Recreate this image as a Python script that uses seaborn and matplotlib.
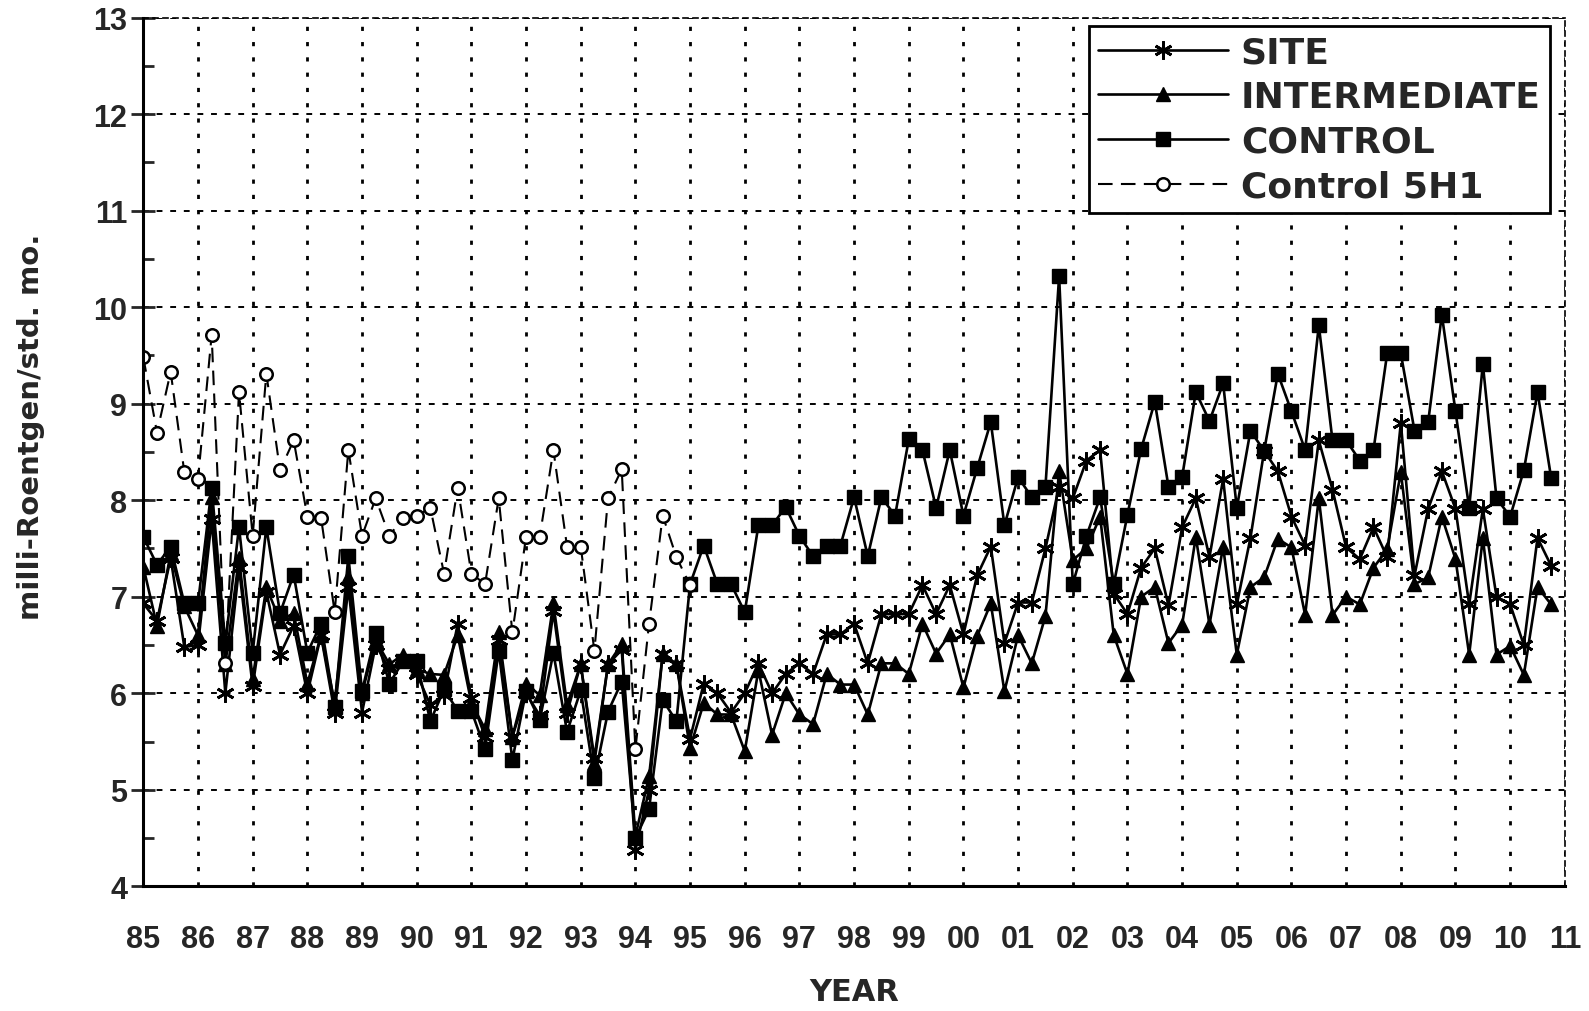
import matplotlib
matplotlib.use('Agg')
import matplotlib.pyplot as plt
from matplotlib.ticker import MultipleLocator
import seaborn as sns
import numpy as np
import pandas as pd

# quarterly readings, 1985 Q1 .. 2010 Q4
site = [6.93, 6.75, 7.4, 6.48, 6.5, 7.8, 6.0, 7.3, 6.07, 7.05, 6.4, 6.7,
        6.0, 6.6, 5.8, 7.1, 5.8, 6.5, 6.25, 6.35, 6.2, 5.88, 5.98, 6.72,
        5.95, 5.55, 6.55, 5.55, 6.0, 5.77, 6.85, 5.8, 6.3, 5.33, 6.3, 6.45,
        4.38, 5.0, 6.41, 6.3, 5.53, 6.1, 6.0, 5.8, 6.0, 6.31, 6.0, 6.2,
        6.31, 6.2, 6.61, 6.61, 6.72, 6.31, 6.82, 6.82, 6.82, 7.12, 6.82, 7.12,
        6.61, 7.22, 7.52, 6.52, 6.94, 6.94, 7.5, 8.14, 8.02, 8.41, 8.52, 7.03,
        6.82, 7.3, 7.5, 6.91, 7.72, 8.02, 7.41, 8.22, 6.92, 7.61, 8.51, 8.3,
        7.83, 7.53, 8.62, 8.11, 7.51, 7.39, 7.72, 7.41, 8.8, 7.22, 7.91, 8.3,
        7.91, 6.92, 7.91, 7.0, 6.92, 6.5, 7.61, 7.32]
intermediate = [7.31, 6.7, 7.45, 6.9, 6.6, 8.03, 6.3, 7.4, 6.15, 7.1, 6.75, 6.83,
                6.1, 6.6, 5.9, 7.2, 6.0, 6.55, 6.3, 6.4, 6.25, 6.2, 6.19, 6.6,
                5.9, 5.63, 6.63, 5.55, 6.1, 5.98, 6.93, 5.88, 6.3, 5.28, 6.3, 6.51,
                4.52, 5.14, 6.41, 6.3, 5.43, 5.9, 5.78, 5.78, 5.4, 6.24, 5.57, 6.0,
                5.78, 5.68, 6.2, 6.09, 6.09, 5.78, 6.31, 6.31, 6.2, 6.72, 6.41, 6.61,
                6.06, 6.59, 6.93, 6.02, 6.6, 6.31, 6.8, 8.3, 7.38, 7.5, 7.83, 6.6,
                6.2, 7.0, 7.1, 6.52, 6.71, 7.62, 6.71, 7.52, 6.4, 7.1, 7.2, 7.6,
                7.51, 6.81, 8.02, 6.81, 7.0, 6.92, 7.3, 7.49, 8.29, 7.13, 7.2, 7.83,
                7.39, 6.4, 7.61, 6.4, 6.49, 6.19, 7.1, 6.92]
control = [7.62, 7.33, 7.52, 6.93, 6.93, 8.13, 6.52, 7.72, 6.42, 7.72, 6.83, 7.23,
           6.42, 6.72, 5.86, 7.42, 6.02, 6.62, 6.1, 6.33, 6.33, 5.71, 6.04, 5.82,
           5.82, 5.42, 6.44, 5.31, 6.02, 5.72, 6.42, 5.6, 6.03, 5.12, 5.81, 6.12,
           4.5, 4.8, 5.93, 5.71, 7.13, 7.53, 7.13, 7.13, 6.84, 7.74, 7.74, 7.93,
           7.63, 7.42, 7.53, 7.53, 8.03, 7.42, 8.03, 7.84, 8.63, 8.52, 7.92, 8.52,
           7.84, 8.33, 8.81, 7.74, 8.24, 8.03, 8.14, 10.32, 7.13, 7.63, 8.03, 7.13,
           7.85, 8.53, 9.02, 8.14, 8.24, 9.12, 8.82, 9.21, 7.92, 8.72, 8.51, 9.31,
           8.92, 8.52, 9.81, 8.62, 8.62, 8.41, 8.52, 9.52, 9.52, 8.72, 8.81, 9.92,
           8.92, 7.92, 9.41, 8.02, 7.83, 8.31, 9.12, 8.23]
# Control 5H1, 1985 Q1 .. 1995 Q1
control_5h1 = [9.48, 8.70, 9.33, 8.29, 8.22, 9.71, 6.31, 9.12, 7.63, 9.31, 8.31, 8.62,
               7.83, 7.82, 6.84, 8.52, 7.63, 8.02, 7.63, 7.82, 7.84, 7.92, 7.24, 8.13,
               7.24, 7.13, 8.02, 6.63, 7.62, 7.62, 8.52, 7.52, 7.52, 6.44, 8.02, 8.32,
               5.42, 6.72, 7.84, 7.41, 7.12]
year_labels = ['85', '86', '87', '88', '89', '90', '91', '92', '93', '94', '95', '96', '97',
               '98', '99', '00', '01', '02', '03', '04', '05', '06', '07', '08', '09', '10', '11']

t_main = 1985 + np.arange(len(site)) / 4
t_5h1 = 1985 + np.arange(len(control_5h1)) / 4

sns.set_style('ticks')
plt.rcParams['font.family'] = ['Liberation Sans', 'DejaVu Sans']
plt.rcParams['font.weight'] = 'bold'
wide = ['DejaVu Sans']

fig = plt.figure(figsize=(15.89, 10.12), dpi=100)
ax = fig.add_axes([0.0902, 0.1232, 0.8946, 0.8585])

sns.lineplot(x=t_main, y=site, ax=ax, color='black', linewidth=1.9,
             marker=(6, 2, 0), markersize=13, markeredgecolor='black',
             markeredgewidth=2, label='SITE')
sns.lineplot(x=t_main, y=intermediate, ax=ax, color='black', linewidth=1.9,
             marker='^', markersize=10.5, markeredgecolor='black',
             markeredgewidth=1, label='INTERMEDIATE')
sns.lineplot(x=t_main, y=control, ax=ax, color='black', linewidth=1.9,
             marker='s', markersize=9.5, markeredgecolor='black',
             markeredgewidth=1, label='CONTROL')
sns.lineplot(x=t_5h1, y=control_5h1, ax=ax, color='black', linewidth=1.5,
             linestyle=(0, (7, 4)), marker='o', markersize=9,
             markerfacecolor='white', markeredgecolor='black',
             markeredgewidth=1.8, label='Control 5H1')

ax.set_xlim(1985, 2011)
ax.set_ylim(4, 13)
ax.set_xticks(np.arange(1985, 2012))
ax.set_xticklabels(year_labels)
ax.set_yticks(np.arange(4, 14))
ax.yaxis.set_minor_locator(MultipleLocator(0.5))

ax.tick_params(axis='x', length=0, pad=27, labelsize=22)
ax.tick_params(axis='y', which='major', direction='inout', length=17, width=2,
               pad=3, labelsize=22)
ax.tick_params(axis='y', which='minor', direction='in', length=8, width=2)

ax.yaxis.grid(True, which='major', color='black', linestyle=(0, (3, 4)), linewidth=1.4)
ax.xaxis.grid(True, which='major', color='black', linestyle=(0, (1.5, 4)), linewidth=2)

for side in ['left', 'bottom']:
    ax.spines[side].set_linewidth(2.2)
    ax.spines[side].set_color('black')
for side in ['top', 'right']:
    ax.spines[side].set_linestyle((0, (3, 3)))
    ax.spines[side].set_linewidth(1.2)
    ax.spines[side].set_color('black')

ax.set_xlabel('YEAR', fontsize=22, fontweight='bold', family=wide, labelpad=17)
ax.set_ylabel('milli-Roentgen/std. mo.', fontsize=21, fontweight='bold', family=wide)
ax.yaxis.set_label_coords(-0.069, 0.53)

leg = ax.legend(loc='upper right', bbox_to_anchor=(0.9894, 0.99), borderaxespad=0,
                handlelength=3.6, handletextpad=0.35, labelspacing=0.3,
                borderpad=0.25, frameon=True, fancybox=False, numpoints=1,
                prop={'weight': 'bold', 'size': 26, 'family': wide})
leg.get_frame().set_edgecolor('black')
leg.get_frame().set_linewidth(2)
leg.get_frame().set_alpha(1)

fig.savefig('out.png', dpi=100)
